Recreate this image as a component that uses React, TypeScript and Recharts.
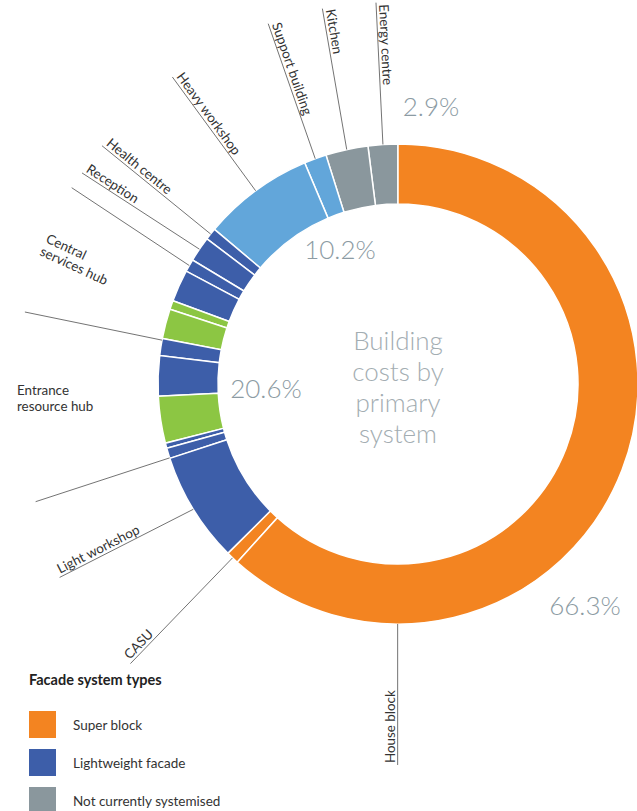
import React from 'react';
import { PieChart, Pie, Cell, Label } from 'recharts';

// ---- data ----
const segmentNames = [
  'Energy centre', 'Kitchen', 'Support building', 'Heavy workshop',
  'Health centre', 'Reception', 'Block C', 'Central services hub',
  'Block E', 'Block F', 'Block G', 'Block H', 'Entrance resource hub',
  'Block J', 'Block K', 'Light workshop', 'CASU', 'House block',
];
const segmentValues = [
  2.0, 2.85, 1.5, 7.5,
  0.8, 1.7, 0.85, 2.15,
  0.6, 2.0, 1.15, 2.7, 3.15,
  0.35, 0.7, 7.45, 0.85, 61.65,
];
const segmentTypes = [
  'none', 'none', 'panel', 'panel',
  'light', 'light', 'light', 'light',
  'green', 'green', 'light', 'light', 'green',
  'light', 'light', 'light', 'super', 'super',
];
const legendLabels = ['Super block', 'Lightweight facade', 'Not currently systemised'];
const legendTypes = ['super', 'light', 'none'];
const groupPercents = ['2.9%', '10.2%', '20.6%', '66.3%'];
const centerLines = ['Building', 'costs by', 'primary', 'system'];

// ---- styles ----
const typeColors: Record<string, string> = {
  super: '#F38421',
  light: '#3D5EA9',
  none: '#8A979D',
  panel: '#62A6DA',
  green: '#8CC643',
};

// leader line layout: fraction along sector, length, direction (deg, svg)
const leaderLayout: Record<string, { frac: number; len: number; dir: number; text?: string }> = {
  'Energy centre': { frac: 0.5, len: 142, dir: -92.8, text: 'Energy centre' },
  'Kitchen': { frac: 0.5, len: 143, dir: -99.8, text: 'Kitchen' },
  'Support building': { frac: 0.5, len: 143, dir: -109.2, text: 'Support building' },
  'Heavy workshop': { frac: 0.5, len: 141, dir: -126.2, text: 'Heavy workshop' },
  'Health centre': { frac: 0.5, len: 140, dir: -140.9, text: 'Health centre' },
  'Reception': { frac: 0.5, len: 140, dir: -147, text: 'Reception' },
  'Block C': { frac: 0.5, len: 141, dir: -146.5 },
  'Block G': { frac: 0.1, len: 140, dir: -168.4 },
  'Block K': { frac: 0.95, len: 141, dir: 161.9 },
  'Light workshop': { frac: 0.5, len: 150, dir: 153, text: 'Light workshop' },
  'CASU': { frac: 0.5, len: 147, dir: 134, text: 'CASU' },
  'House block': { frac: 0.189, len: 141, dir: 90, text: 'House block' },
};

const data = segmentNames.map((name, i) => ({
  name,
  value: segmentValues[i],
  type: segmentTypes[i],
}));

const FONT = 'Lato, "Noto Sans", sans-serif';

const renderLeader = (props: any) => {
  const { cx, cy, outerRadius, midAngle } = props;
  const name = props.payload?.name ?? props.name;
  const cfg = leaderLayout[name];
  if (!cfg) return null;
  const sA = props.startAngle ?? midAngle;
  const eA = props.endAngle ?? midAngle;
  const ang = sA + (eA - sA) * cfg.frac;
  const rad = (-ang * Math.PI) / 180;
  const px = cx + outerRadius * Math.cos(rad);
  const py = cy + outerRadius * Math.sin(rad);
  const d = (cfg.dir * Math.PI) / 180;
  const qx = px + cfg.len * Math.cos(d);
  const qy = py + cfg.len * Math.sin(d);
  const rot = cfg.dir + 180;
  return (
    <g key={`lead-${name}`}>
      <line x1={px} y1={py} x2={qx} y2={qy} stroke="#5a5a5a" strokeWidth={0.85} />
      {cfg.text && (
        <text
          transform={`translate(${qx},${qy}) rotate(${rot})`}
          x={2}
          y={-3}
          fontFamily={FONT}
          fontSize={13.4}
          fill="#333"
          textAnchor="start"
        >
          {cfg.text}
        </text>
      )}
    </g>
  );
};

const renderCenter = (props: any) => {
  const vb = props.viewBox || {};
  const cx = vb.cx ?? 398;
  const cy = vb.cy ?? 384;
  const pctPos = [
    [33, -268],
    [-58, -125],
    [-132, 14],
    [187, 231],
  ];
  return (
    <g>
      {centerLines.map((t, i) => (
        <text
          key={t}
          x={cx}
          y={cy - 34 + i * 31}
          textAnchor="middle"
          fontFamily={FONT}
          fontWeight={300}
          fontSize={26}
          fill="#A3ADB2"
        >
          {t}
        </text>
      ))}
      {groupPercents.map((t, i) => (
        <text
          key={t}
          x={cx + pctPos[i][0]}
          y={cy + pctPos[i][1]}
          textAnchor="middle"
          fontFamily={FONT}
          fontWeight={300}
          fontSize={26}
          fill="#8C9BA3"
        >
          {t}
        </text>
      ))}
      <g fontFamily={FONT} fontSize={13.4} fill="#333">
        <text transform="translate(45,242) rotate(25)">
          <tspan x={0} y={0}>Central</tspan>
          <tspan x={0} y={14}>services hub</tspan>
        </text>
        <text x={17} y={395}>Entrance</text>
        <text x={17} y={411}>resource hub</text>
      </g>
    </g>
  );
};

export default function App() {
  return (
    <div style={{ position: 'absolute', left: 0, top: 0, width: 637, height: 811, overflow: 'hidden', background: '#fff' }}>
      <PieChart width={637} height={811} margin={{ top: 0, right: 0, bottom: 0, left: 0 }}>
        <Pie
          data={data}
          dataKey="value"
          nameKey="name"
          cx={398}
          cy={384}
          innerRadius={180}
          outerRadius={240}
          startAngle={90}
          endAngle={450}
          stroke="#fff"
          strokeWidth={1.5}
          isAnimationActive={false}
          labelLine={false}
          label={renderLeader}
        >
          {data.map((d) => (
            <Cell key={d.name} fill={typeColors[d.type]} />
          ))}
          <Label position="center" content={renderCenter} />
        </Pie>
      </PieChart>
      <div style={{ position: 'absolute', left: 29, top: 672, fontFamily: FONT, color: '#222' }}>
        <div style={{ fontWeight: 700, fontSize: 14.5, lineHeight: '16px' }}>Facade system types</div>
      </div>
      {legendLabels.map((l, i) => (
        <div
          key={l}
          style={{ position: 'absolute', left: 29, top: 711 + i * 38, display: 'flex', alignItems: 'center', fontFamily: FONT, fontSize: 13.5, color: '#333' }}
        >
          <div style={{ width: 27, height: 27, background: typeColors[legendTypes[i]] }} />
          <div style={{ marginLeft: 17 }}>{l}</div>
        </div>
      ))}
    </div>
  );
}
